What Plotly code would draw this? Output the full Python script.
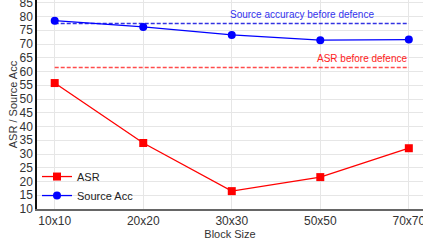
import plotly.graph_objects as go

categories = ["10x10", "20x20", "30x30", "50x50", "70x70"]
asr = [55.8, 34.0, 16.5, 21.6, 32.1]
source_acc = [78.5, 76.2, 73.3, 71.4, 71.6]
asr_before = 61.5
acc_before = 77.5
yticks = list(range(10, 90, 5))

xs = list(range(len(categories)))

fig = go.Figure()
fig.add_trace(go.Scatter(
    x=[xs[0], xs[-1]], y=[acc_before, acc_before], mode="lines",
    line=dict(color="rgba(0,0,220,0.8)", width=1.5, dash="4px,2px"),
    showlegend=False, hoverinfo="skip"))
fig.add_trace(go.Scatter(
    x=[xs[0], xs[-1]], y=[asr_before, asr_before], mode="lines",
    line=dict(color="rgba(255,0,0,0.7)", width=1.5, dash="4px,2px"),
    showlegend=False, hoverinfo="skip"))
fig.add_trace(go.Scatter(
    x=xs, y=asr, mode="lines+markers", name="ASR",
    line=dict(color="#ff0000", width=1.3),
    marker=dict(symbol="square", size=8, color="#ff0000")))
fig.add_trace(go.Scatter(
    x=xs, y=source_acc, mode="lines+markers", name="Source Acc",
    line=dict(color="#0000ff", width=1.3),
    marker=dict(symbol="circle", size=8, color="#0000ff")))

fig.add_annotation(x=3.63, y=acc_before, xref="x", yref="y",
                   text="Source accuracy before defence", showarrow=False,
                   xanchor="right", yanchor="bottom", yshift=1,
                   font=dict(color="#3333ee", size=10, family="Liberation Sans, Arial"))
fig.add_annotation(x=xs[-1], y=asr_before, xref="x", yref="y",
                   text="ASR before defence", showarrow=False,
                   xanchor="right", yanchor="bottom", yshift=1,
                   font=dict(color="#ff2222", size=10, family="Liberation Sans, Arial"))

fig.update_layout(
    width=423, height=241,
    margin=dict(l=37, r=0, t=0, b=32, autoexpand=False),
    paper_bgcolor="white", plot_bgcolor="white",
    font=dict(family="Liberation Sans, Arial", size=12, color="#333"),
    showlegend=True,
    legend=dict(x=0.0, y=-0.005, xanchor="left", yanchor="bottom",
                bgcolor="rgba(255,255,255,0)", font=dict(size=11, color="#222"),
                itemwidth=30, tracegroupgap=0),
    xaxis=dict(
        tickmode="array", tickvals=xs, ticktext=categories,
        range=[-0.2, 4.16], showgrid=True, gridcolor="#e6e6e6",
        showline=True, linecolor="#666", linewidth=1.5,
        ticks="", tickfont=dict(size=12, color="#333"),
        ticklabeloverflow="allow", automargin=False,
        title=dict(text="Block Size", font=dict(size=11, color="#333"), standoff=0),
        zeroline=False),
    yaxis=dict(
        tickmode="array", tickvals=yticks, range=[10, 86],
        showgrid=True, gridcolor="#e6e6e6",
        showline=True, linecolor="#111", linewidth=1.5,
        ticks="", tickfont=dict(size=12, color="#333"),
        ticklabeloverflow="allow", automargin=False,
        title=dict(text="ASR / Source Acc", font=dict(size=11, color="#333"), standoff=0),
        zeroline=False),
)

fig.write_html("out.html", config={"displayModeBar": False},
               post_script="document.body.style.margin='0';document.body.style.overflow='hidden';")
